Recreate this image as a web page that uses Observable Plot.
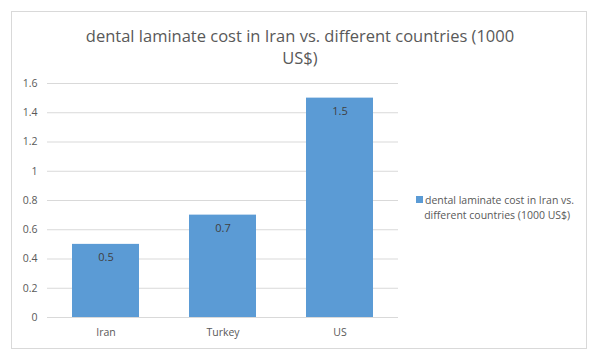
<!DOCTYPE html>
<html>
<head>
<meta charset="utf-8">
<script src="https://cdn.jsdelivr.net/npm/d3@7"></script>
<script src="https://cdn.jsdelivr.net/npm/@observablehq/plot@0.6"></script>
<style>
  html, body { margin: 0; padding: 0; background: #fff; }
  #wrap { position: relative; width: 600px; height: 362px; overflow: hidden; font-family: "Open Sans", "Noto Sans", sans-serif; }
  #frame { position: absolute; left: 11px; top: 11px; width: 576px; height: 338px; border: 1px solid #d9d9d9; box-sizing: border-box; }
  #title { position: absolute; left: 0; top: 25px; width: 600px; text-align: center; font-size: 16.5px; line-height: 22px; color: #595959; }
  #legend { position: absolute; left: 416px; top: 193px; font-size: 10.5px; line-height: 15px; color: #595959; }
  #legend .sw { display: inline-block; width: 7px; height: 7px; background: #5B9BD5; margin-right: 2px; vertical-align: 1px; }
  #plot { position: absolute; left: 0; top: 0; }
</style>
</head>
<body>
<div id="wrap">
  <div id="frame"></div>
  <div id="plot"></div>
  <div id="title">dental laminate cost in Iran vs. different countries (1000<br>US$)</div>
  <div id="legend"><span class="sw"></span>dental laminate cost in Iran vs.<br>&nbsp;&nbsp;&nbsp;different countries (1000 US$)</div>
</div>
<script>
const countries = ["Iran", "Turkey", "US"];
const costs = [0.5, 0.7, 1.5];
const yTicks = [0, 0.2, 0.4, 0.6, 0.8, 1, 1.2, 1.4, 1.6];
const yTickLabels = ["0", "0.2", "0.4", "0.6", "0.8", "1", "1.2", "1.4", "1.6"];

const data = countries.map((c, i) => ({country: c, cost: costs[i]}));
const labelOf = new Map(yTicks.map((t, i) => [t, yTickLabels[i]]));

const chart = Plot.plot({
  width: 600,
  height: 362,
  marginLeft: 47,
  marginRight: 202,
  marginTop: 83,
  marginBottom: 45,
  style: {fontFamily: "'Open Sans', 'Noto Sans', sans-serif", fontSize: "10.5px", color: "#595959", background: "transparent"},
  x: {domain: countries, paddingInner: 0.43, paddingOuter: 0.215, label: null, tickSize: 0, tickPadding: 11},
  y: {domain: [0, 1.6], ticks: yTicks, tickFormat: d => labelOf.get(d), label: null, tickSize: 0, tickPadding: 10},
  marks: [
    Plot.gridY(yTicks, {stroke: "#d9d9d9", strokeOpacity: 1}),
    Plot.barY(data, {x: "country", y: "cost", fill: "#5B9BD5"}),
    Plot.ruleY([0], {stroke: "#d9d9d9"}),
    Plot.text(data, {x: "country", y: "cost", text: d => String(d.cost), dy: 13, fill: "#404040", fontSize: 11})
  ]
});
document.getElementById("plot").appendChild(chart);
</script>
</body>
</html>
